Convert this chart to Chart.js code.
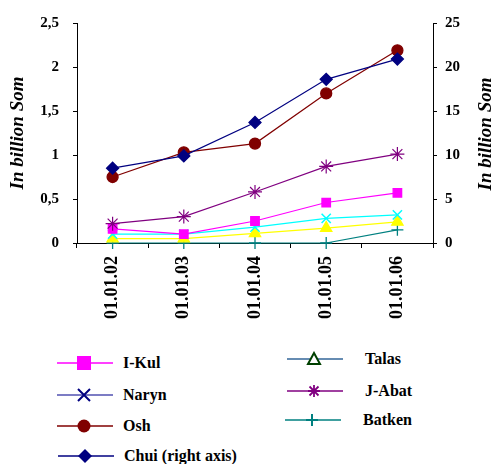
<!DOCTYPE html>
<html>
<head>
<meta charset="utf-8">
<script src="https://cdn.jsdelivr.net/npm/chart.js@4.4.0/dist/chart.umd.min.js"></script>
<style>
  html, body { margin: 0; padding: 0; background: #fff; }
  #wrap { position: relative; width: 493px; height: 464px; overflow: hidden; }
  #c { position: absolute; left: 0; top: 0; }
  .lg { position: absolute; font: bold 16px "Liberation Serif", "Times New Roman", serif; color: #000; white-space: nowrap; }
  .lg svg { position: absolute; left: 0; top: -8px; }
  .lg span { position: absolute; top: -9px; line-height: 18px; }
</style>
</head>
<body>
<div id="wrap">
  <canvas id="c" width="493" height="340"></canvas>
  <div id="legend"></div>
</div>
<script>
const categories = ["01.01.02", "01.01.03", "01.01.04", "01.01.05", "01.01.06"];
const iKul   = [0.16, 0.10, 0.25, 0.46, 0.57];
const naryn  = [0.10, 0.10, 0.18, 0.28, 0.32];
const osh    = [0.75, 1.03, 1.13, 1.70, 2.19];
const chui   = [8.5, 9.9, 13.7, 18.6, 20.9];   // right axis
const talas  = [0.05, 0.05, 0.11, 0.17, 0.24];
const jAbat  = [0.22, 0.30, 0.58, 0.87, 1.01];
const batken = [0, 0, 0, 0, 0.15];
const leftTicks  = [0, 0.5, 1, 1.5, 2, 2.5];
const rightTicks = [0, 5, 10, 15, 20, 25];
const axisTitle = "In billion Som";

function ds(label, data, color, style, radius, axis, extra) {
  return Object.assign({
    label, data, yAxisID: axis || 'y',
    borderColor: color, backgroundColor: color,
    pointBackgroundColor: color, pointBorderColor: color,
    pointStyle: style, pointRadius: radius, pointHoverRadius: radius,
    pointBorderWidth: 1.3, borderWidth: 1.2, tension: 0, clip: false, fill: false
  }, extra || {});
}

const titlePlugin = {
  id: 'titles',
  afterDraw(chart) {
    const ctx = chart.ctx;
    ctx.save();
    ctx.font = 'italic bold 19px "Liberation Serif"';
    ctx.fillStyle = '#000';
    ctx.textAlign = 'center';
    ctx.textBaseline = 'middle';
    [[18, 133], [486, 134]].forEach(([x, y]) => {
      ctx.save();
      ctx.translate(x, y);
      ctx.rotate(-Math.PI / 2);
      ctx.fillText(axisTitle, 0, 0);
      ctx.restore();
    });
    ctx.restore();
  }
};

const tickFont = { family: '"Liberation Serif"', weight: 'bold', size: 15 };

new Chart(document.getElementById('c'), {
  type: 'line',
  data: {
    labels: categories,
    datasets: [
      ds('Chui (right axis)', chui, '#000080', 'rectRot', 6, 'y2'),
      ds('Osh', osh, '#800000', 'circle', 5.5),
      ds('J-Abat', jAbat, '#800080', 'star', 7, 'y', { pointBorderWidth: 1.2 }),
      ds('I-Kul', iKul, '#FF00FF', 'rect', 6),
      ds('Naryn', naryn, '#00FFFF', 'crossRot', 6.5, 'y', { pointBorderWidth: 1.5 }),
      ds('Talas', talas, '#FFFF00', 'triangle', 6.5),
      ds('Batken', batken, '#008080', 'cross', 6, 'y', { pointBorderWidth: 1.3 })
    ]
  },
  options: {
    responsive: false,
    animation: false,
    events: [],
    layout: { padding: { top: 23, left: 0, right: 0, bottom: 0 } },
    plugins: { legend: { display: false }, tooltip: { enabled: false }, title: { display: false } },
    scales: {
      x: {
        type: 'category',
        offset: true,
        afterFit(s) { s.height = 97; },
        grid: { display: true, drawOnChartArea: false, offset: true, tickLength: 5, color: '#000' },
        border: { display: true, color: '#000', width: 1 },
        ticks: { color: '#000', font: { family: '"Liberation Serif"', weight: 'bold', size: 18 }, minRotation: 90, maxRotation: 90, padding: 8, autoSkip: false }
      },
      y: {
        position: 'left',
        min: 0, max: 2.5,
        afterFit(s) { s.width = 77; },
        afterBuildTicks(s) { s.ticks = leftTicks.map(v => ({ value: v })); },
        grid: { display: true, drawOnChartArea: false, tickLength: 4, color: '#000' },
        border: { display: true, color: '#000', width: 1 },
        ticks: { color: '#000', font: tickFont, padding: 14, callback: v => String(v).replace('.', ',') }
      },
      y2: {
        position: 'right',
        min: 0, max: 25,
        afterFit(s) { s.width = 60; },
        afterBuildTicks(s) { s.ticks = rightTicks.map(v => ({ value: v })); },
        grid: { display: true, drawOnChartArea: false, tickLength: 4, color: '#000' },
        border: { display: true, color: '#000', width: 1 },
        ticks: { color: '#000', font: tickFont, padding: 8 }
      }
    }
  },
  plugins: [titlePlugin]
});

// Legend (styled as in the reference image)
const legendItems = [
  { label: 'I-Kul',  x: 57,  y: 363, line: '#FF00FF', marker: 'square',  mc: '#FF00FF' },
  { label: 'Naryn',  x: 57,  y: 395, line: '#5050B0', marker: 'x',       mc: '#000080' },
  { label: 'Osh',    x: 57,  y: 426, line: '#800000', marker: 'circle',  mc: '#800000' },
  { label: 'Chui (right axis)', x: 58, y: 456, line: '#000080', marker: 'diamond', mc: '#000080' },
  { label: 'Talas',  x: 287, y: 359, line: '#336699', marker: 'triangle', mc: '#004000' },
  { label: 'J-Abat', x: 287, y: 391, line: '#800080', marker: 'star',    mc: '#800080' },
  { label: 'Batken', x: 285, y: 420, line: '#008080', marker: 'plus',    mc: '#008080' }
];
function markerSvg(m, c) {
  const cx = 27, cy = 8;
  switch (m) {
    case 'square': return `<rect x="${cx-7}" y="${cy-7}" width="14" height="14" fill="${c}"/>`;
    case 'x': return `<path d="M${cx-6} ${cy-6}L${cx+6} ${cy+6}M${cx+6} ${cy-6}L${cx-6} ${cy+6}" stroke="${c}" stroke-width="2"/>`;
    case 'circle': return `<circle cx="${cx}" cy="${cy}" r="6.5" fill="${c}"/>`;
    case 'diamond': return `<path d="M${cx} ${cy-7}L${cx+7} ${cy}L${cx} ${cy+7}L${cx-7} ${cy}Z" fill="${c}"/>`;
    case 'triangle': return `<path d="M${cx} ${cy-6}L${cx+6} ${cy+5}L${cx-6} ${cy+5}Z" fill="#fff" stroke="${c}" stroke-width="2"/>`;
    case 'star': return `<path d="M${cx} ${cy-6}V${cy+6}M${cx-6} ${cy}H${cx+6}M${cx-4.5} ${cy-4.5}L${cx+4.5} ${cy+4.5}M${cx+4.5} ${cy-4.5}L${cx-4.5} ${cy+4.5}" stroke="${c}" stroke-width="1.8"/>`;
    case 'plus': return `<path d="M${cx} ${cy-6}V${cy+6}M${cx-6} ${cy}H${cx+6}" stroke="${c}" stroke-width="2"/>`;
  }
  return '';
}
const lg = document.getElementById('legend');
legendItems.forEach(it => {
  const d = document.createElement('div');
  d.className = 'lg';
  d.style.left = it.x + 'px';
  d.style.top = it.y + 'px';
  d.innerHTML = `<svg width="56" height="16" viewBox="0 0 56 16"><line x1="0" y1="8" x2="56" y2="8" stroke="${it.line}" stroke-width="1.5"/>${markerSvg(it.marker, it.mc)}</svg><span style="left:${it.x < 200 ? 66 : 78}px">${it.label}</span>`;
  lg.appendChild(d);
});
</script>
</body>
</html>
